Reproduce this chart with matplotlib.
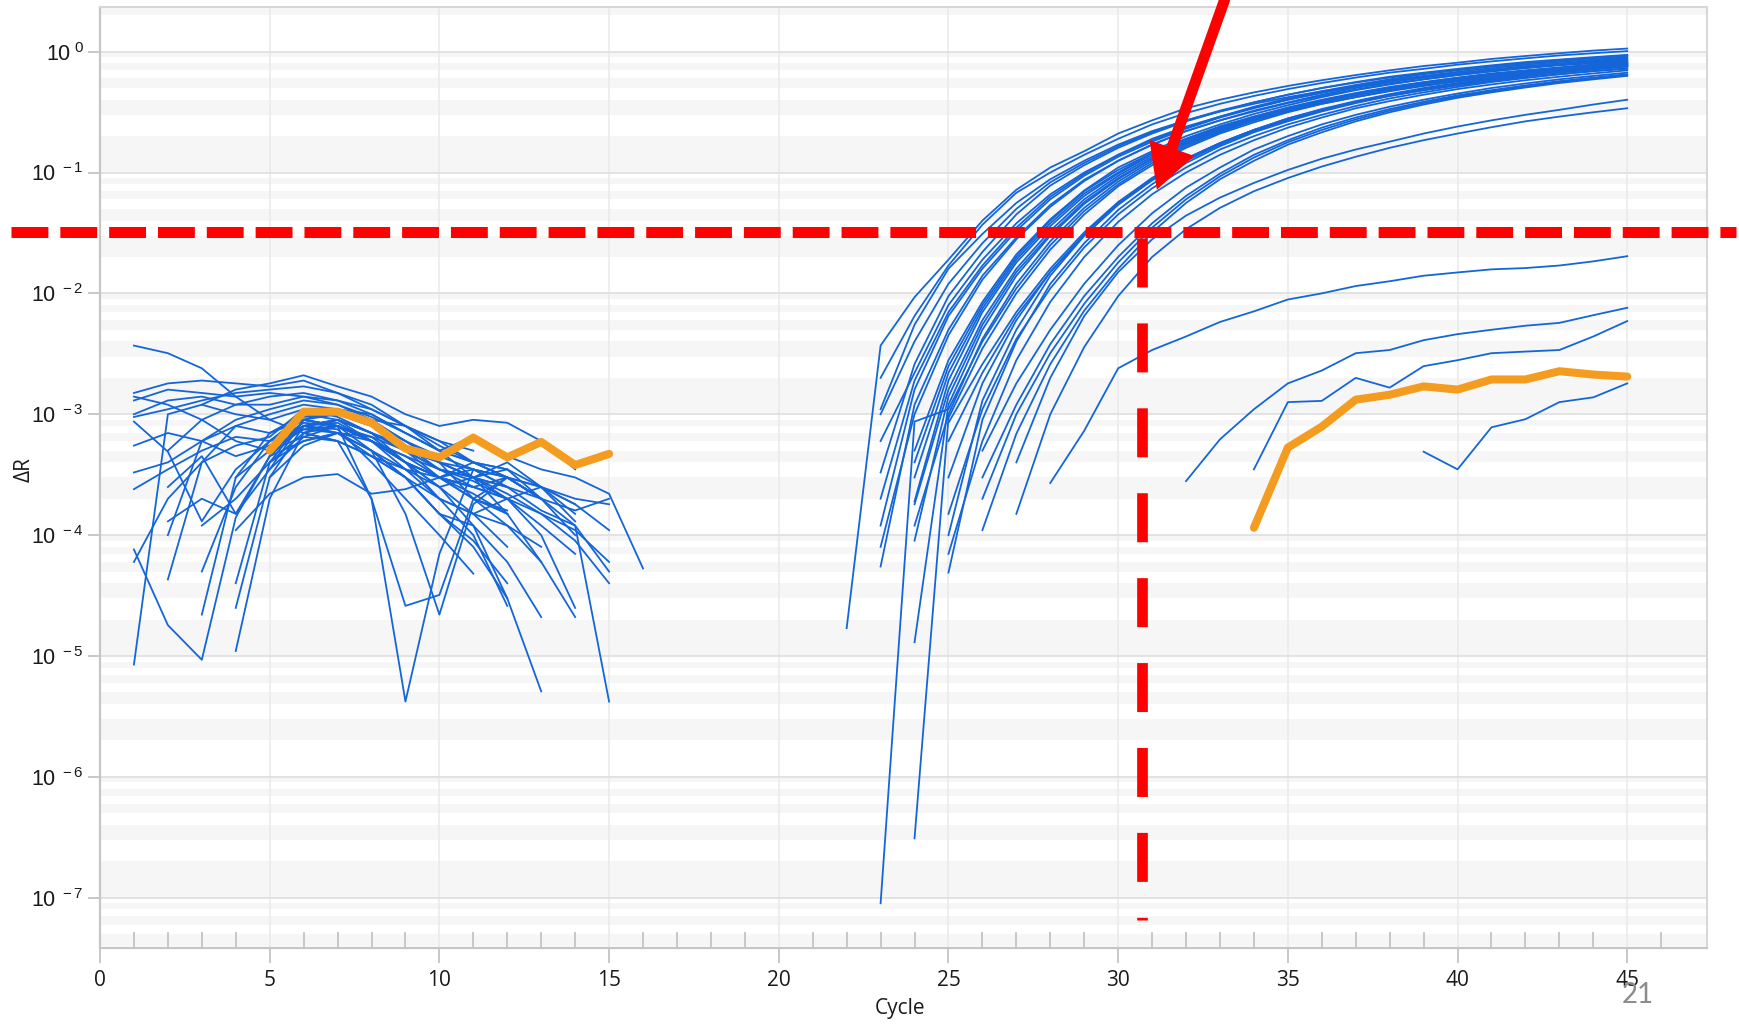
import numpy as np
import matplotlib.pyplot as plt
from matplotlib.ticker import FixedLocator, NullLocator

BLUE = '#1466d8'
ORANGE = '#f39c1f'
RED = '#ff0000'

# ── background noise traces, cycles 1-16: (first cycle, dR values) ──────────
e01 = (1, [3.7e-3, 3.2e-3, 2.4e-3, 1.4e-3, 9.0e-4, 7.0e-4, 6.0e-4, 4.5e-4, 3.5e-4, 3.0e-4, 2.5e-4])
e02 = (1, [1.5e-3, 1.8e-3, 1.9e-3, 1.8e-3, 1.7e-3, 1.9e-3, 1.5e-3, 1.1e-3, 8.0e-4, 6.0e-4, 4.0e-4, 3.0e-4, 2.0e-4])
e03 = (1, [1.3e-3, 1.6e-3, 1.5e-3, 1.4e-3, 1.5e-3, 1.4e-3, 1.3e-3, 1.0e-3, 7.0e-4, 5.0e-4, 4.0e-4, 3.5e-4])
e04 = (1, [1.0e-3, 1.3e-3, 1.4e-3, 1.2e-3, 1.2e-3, 1.4e-3, 1.2e-3, 9.0e-4, 6.0e-4, 4.0e-4, 2.0e-4, 1.2e-4, 8.0e-5])
e05 = (1, [8.7e-4, 4.9e-4, 1.3e-4, 3.5e-4, 6.0e-4, 8.0e-4, 7.0e-4, 4.5e-4, 3.0e-4, 1.5e-4, 9.0e-5, 4.0e-5])
e06 = (1, [3.3e-4, 4.0e-4, 6.0e-4, 8.0e-4, 7.0e-4, 9.0e-4, 8.0e-4, 6.0e-4, 4.5e-4, 3.0e-4, 2.5e-4, 3.0e-4, 2.0e-4, 1.0e-4])
e07 = (1, [2.4e-4, 3.5e-4, 5.0e-4, 6.5e-4, 6.0e-4, 7.5e-4, 7.0e-4, 5.0e-4, 3.5e-4, 2.5e-4, 3.0e-4, 2.5e-4, 1.6e-4, 1.2e-4, 5.0e-5])
e08 = (1, [7.6e-5, 1.8e-5, 9.3e-6, 1.4e-4, 4.5e-4, 8.0e-4, 7.0e-4, 5.0e-4, 3.0e-4, 1.5e-4, 8.0e-5, 3.0e-5])
e09 = (1, [8.5e-6, 1.0e-3, 1.2e-3, 1.0e-3, 9.0e-4, 1.1e-3, 9.5e-4, 7.0e-4, 5.0e-4, 3.5e-4, 2.8e-4, 2.0e-4])
e10 = (1, [1.4e-3, 1.2e-3, 9.0e-4, 6.0e-4, 5.0e-4, 6.5e-4, 6.0e-4, 4.5e-4, 3.0e-4, 2.0e-4, 1.5e-4, 2.0e-4, 1.5e-4, 9.0e-5, 4.0e-5])
e11 = (2, [4.3e-5, 4.0e-4, 8.0e-4, 1.0e-3, 1.2e-3, 1.1e-3, 8.5e-4, 6.0e-4, 4.5e-4, 3.5e-4, 2.5e-4])
e12 = (2, [1.0e-4, 6.0e-4, 9.0e-4, 1.1e-3, 1.3e-3, 1.2e-3, 9.5e-4, 7.0e-4, 5.0e-4, 3.0e-4, 1.5e-4, 6.0e-5])
e13 = (3, [2.2e-5, 3.0e-4, 7.0e-4, 9.0e-4, 8.0e-4, 6.0e-4, 4.0e-4, 2.5e-4, 1.5e-4, 8.0e-5])
e14 = (3, [5.0e-5, 2.5e-4, 6.0e-4, 9.5e-4, 1.0e-3, 8.0e-4, 5.5e-4, 3.5e-4, 2.5e-4, 2.0e-4, 2.5e-4, 1.8e-4])
e15 = (4, [1.1e-5, 2.0e-4, 7.0e-4, 8.0e-4, 6.5e-4, 4.0e-4, 3.0e-4, 2.0e-4, 1.6e-4])
e16 = (4, [2.5e-5, 3.0e-4, 8.0e-4, 9.0e-4, 7.0e-4, 5.0e-4, 3.0e-4, 2.5e-4, 2.0e-4, 1.2e-4, 7.0e-5])
e17 = (4, [4.0e-5, 4.0e-4, 9.0e-4, 1.0e-3, 8.5e-4, 6.0e-4, 4.0e-4, 3.0e-4, 3.5e-4, 2.0e-4])
e18 = (2, [1.3e-4, 2.0e-4, 1.5e-4, 3.5e-4, 9.0e-4, 1.1e-3, 1.0e-3, 7.0e-4, 5.0e-4, 4.0e-4, 3.0e-4, 2.0e-4])
e19 = (1, [6.0e-5, 2.0e-4, 4.0e-4, 5.5e-4, 6.5e-4, 1.1e-3, 1.0e-3, 8.0e-4, 5.5e-4, 4.0e-4, 3.0e-4, 2.0e-4, 1.0e-4, 2.5e-5])
e20 = (6, [9.0e-4, 8.0e-4, 2.0e-4, 4.2e-6, 7.0e-5, 3.5e-4, 3.0e-4, 2.0e-4])
e21 = (5, [6.0e-4, 1.0e-3, 9.0e-4, 7.0e-4, 4.0e-4, 2.5e-4, 1.2e-4, 3.0e-5, 5.1e-6])
e22 = (5, [5.5e-4, 8.0e-4, 8.5e-4, 6.0e-4, 4.0e-4, 3.0e-4, 4.0e-4, 3.0e-4, 2.0e-4, 1.2e-4, 4.2e-6])
e23 = (5, [7.0e-4, 1.0e-3, 1.1e-3, 9.0e-4, 8.0e-4, 5.0e-4, 6.5e-4, 4.5e-4, 3.5e-4, 3.0e-4, 2.2e-4, 5.3e-5])
e24 = (5, [4.0e-4, 7.0e-4, 9.0e-4, 7.0e-4, 5.0e-4, 3.5e-4, 3.0e-4, 4.0e-4, 2.5e-4, 1.8e-4, 1.1e-4])
e25 = (6, [8.0e-4, 9.0e-4, 6.0e-4, 3.5e-4, 2.0e-4, 1.5e-4, 1.2e-4, 6.0e-5, 2.1e-5])
e26 = (5, [4.5e-4, 6.0e-4, 7.0e-4, 5.0e-4, 3.0e-4, 1.5e-4, 1.2e-4, 6.0e-5, 2.1e-5])
e27 = (4, [3.0e-4, 5.0e-4, 7.5e-4, 8.0e-4, 6.0e-4, 4.0e-4, 2.0e-4, 1.0e-4, 2.6e-5])
e28 = (5, [6.0e-4, 9.0e-4, 8.0e-4, 5.0e-4, 1.5e-4, 2.2e-5, 1.8e-4, 3.0e-4, 2.5e-4, 1.5e-4])
e29 = (6, [7.0e-4, 6.0e-4, 2.0e-4, 2.6e-5, 3.2e-5, 2.0e-4, 3.0e-4, 2.0e-4])
e30 = (5, [5.0e-4, 8.0e-4, 7.5e-4, 4.0e-4, 2.0e-4, 1.0e-4, 4.8e-5])
e31 = (5, [3.5e-4, 6.5e-4, 8.0e-4, 6.0e-4, 4.5e-4, 3.5e-4, 3.0e-4, 2.5e-4, 2.0e-4, 1.6e-4, 2.0e-4])
e32 = (3, [1.2e-3, 1.6e-3, 1.8e-3, 2.1e-3, 1.7e-3, 1.4e-3, 1.0e-3, 8.0e-4, 9.0e-4, 8.5e-4, 6.0e-4, 3.5e-4])
e33 = (1, [9.5e-4, 1.1e-3, 1.3e-3, 1.5e-3, 1.6e-3, 1.7e-3, 1.5e-3, 1.2e-3, 8.0e-4, 6.0e-4, 5.0e-4])
e34 = (2, [5.0e-4, 9.0e-4, 1.2e-3, 1.4e-3, 1.5e-3, 1.3e-3, 1.1e-3, 8.0e-4, 5.5e-4, 4.0e-4, 3.5e-4, 2.5e-4, 1.3e-4])
e35 = (3, [1.2e-4, 2.0e-4, 4.0e-4, 6.0e-4, 7.0e-4, 6.0e-4, 4.0e-4, 3.0e-4, 3.5e-4, 2.5e-4])
e36 = (4, [1.1e-4, 2.2e-4, 3.0e-4, 3.2e-4, 2.2e-4, 2.4e-4, 3.0e-4, 2.2e-4, 1.5e-4])
e37 = (1, [5.5e-4, 7.0e-4, 6.0e-4, 4.5e-4, 5.5e-4, 8.5e-4, 8.0e-4, 6.0e-4, 4.0e-4, 3.0e-4, 2.0e-4, 1.5e-4])
e38 = (2, [2.5e-4, 4.5e-4, 1.5e-4, 4.5e-4, 8.0e-4, 9.0e-4, 7.0e-4, 5.5e-4, 4.0e-4, 3.0e-4, 2.2e-4, 1.5e-4, 1.1e-4, 6.0e-5])
e39 = (5, [3.0e-4, 5.5e-4, 7.0e-4, 6.5e-4, 5.0e-4, 4.0e-4, 3.5e-4, 3.0e-4, 2.5e-4, 2.0e-4, 1.8e-4])

# ── amplification curves ─────────────────────────────────────────────────────
a01 = (22, [1.7e-5, 3.7e-3, 9.3e-3, .019, .040, .072, .11, .15, .21, .27, .34, .40, .46, .52, .58, .64, .70, .76, .81, .87, .92, .97, 1.02, 1.06])
a02 = (23, [2.0e-3, 6.5e-3, .017, .037, .068, .10, .14, .19, .25, .31, .37, .43, .49, .55, .61, .67, .72, .78, .83, .88, .93, .97, 1.01])
a03 = (23, [1.0e-3, 4.0e-3, .012, .026, .050, .083, .12, .165, .215, .27, .325, .38, .44, .50, .555, .61, .66, .71, .76, .80, .84, .88, .92])
a04 = (23, [3.3e-4, 2.6e-3, .0095, .022, .045, .078, .115, .16, .21, .265, .32, .38, .44, .50, .56, .62, .67, .72, .77, .82, .86, .90, .94])
a05 = (23, [1.2e-4, 1.6e-3, 6.5e-3, .016, .033, .060, .094, .135, .18, .23, .285, .34, .40, .46, .52, .58, .63, .68, .73, .78, .82, .86, .90])
a06 = (23, [5.5e-5, 1.2e-3, 5.0e-3, .014, .029, .054, .087, .125, .17, .22, .27, .325, .38, .44, .50, .555, .61, .66, .71, .76, .80, .84, .88])
a07 = (23, [6.0e-4, 2.2e-3, 8.0e-3, .019, .038, .066, .10, .14, .19, .24, .29, .345, .40, .455, .51, .565, .615, .66, .705, .75, .79, .83, .86])
a08 = (23, [1.1e-3, 5.5e-3, .016, .031, .056, .088, .125, .17, .22, .27, .32, .37, .42, .47, .52, .57, .62, .66, .70, .74, .78, .81, .84])
a09 = (23, [2.0e-4, 1.9e-3, 7.0e-3, .017, .035, .063, .097, .14, .185, .235, .29, .35, .41, .47, .53, .59, .65, .70, .75, .80, .85, .89, .93])
a10 = (23, [8.0e-5, 1.0e-3, 4.5e-3, .013, .028, .052, .085, .125, .17, .22, .27, .32, .375, .43, .485, .54, .59, .64, .685, .73, .77, .80, .83])
a11 = (23, [9.0e-8, 8.7e-4, 1.1e-3, 4.0e-3, .011, .025, .048, .08, .12, .165, .215, .27, .325, .38, .435, .49, .54, .59, .64, .68, .72, .76, .79])
a12 = (24, [3.1e-7, 9.3e-4, 3.5e-3, .010, .023, .045, .077, .115, .16, .21, .26, .315, .37, .42, .475, .525, .575, .62, .665, .71, .75, .78])
b01 = (24, [3.0e-4, 2.2e-3, 7.5e-3, .019, .038, .067, .10, .145, .19, .24, .29, .345, .40, .455, .51, .56, .61, .66, .70, .74, .78, .82])
b02 = (24, [1.8e-4, 1.6e-3, 6.0e-3, .016, .033, .060, .094, .135, .18, .23, .28, .335, .39, .445, .50, .55, .60, .65, .69, .73, .77, .80])
b03 = (24, [1.3e-5, 1.2e-3, 5.0e-3, .014, .030, .055, .088, .13, .175, .225, .275, .33, .385, .44, .495, .55, .60, .645, .69, .73, .77, .81])
b04 = (24, [1.9e-4, 1.9e-3, 7.0e-3, .018, .036, .064, .098, .14, .185, .235, .285, .34, .395, .45, .505, .555, .605, .65, .695, .735, .775, .81])
b05 = (24, [5.0e-4, 2.8e-3, 8.5e-3, .021, .041, .071, .11, .15, .20, .25, .305, .36, .42, .48, .535, .59, .64, .69, .735, .78, .82, .86])
b06 = (24, [9.0e-5, 1.4e-3, 5.5e-3, .015, .031, .057, .09, .13, .175, .22, .27, .32, .37, .42, .47, .52, .565, .61, .65, .69, .73, .76])
b07 = (24, [4.0e-4, 2.5e-3, 8.0e-3, .020, .040, .07, .105, .145, .19, .24, .29, .34, .39, .44, .49, .535, .58, .62, .66, .70, .735, .77])
b08 = (24, [1.2e-4, 1.0e-3, 4.2e-3, .012, .027, .051, .084, .125, .17, .22, .27, .325, .38, .435, .49, .54, .59, .64, .685, .73, .77, .81])
c01 = (25, [1.0e-4, 1.3e-3, 5.0e-3, .014, .030, .055, .088, .13, .175, .225, .275, .33, .385, .44, .49, .54, .59, .635, .68, .72, .76])
c02 = (25, [4.9e-5, 9.0e-4, 4.0e-3, .012, .026, .049, .08, .12, .165, .215, .265, .32, .375, .43, .48, .53, .58, .625, .67, .71, .75])
c03 = (25, [8.5e-4, 2.6e-3, 7.0e-3, .016, .032, .057, .09, .13, .175, .225, .28, .335, .39, .445, .50, .55, .60, .645, .69, .73, .77])
c04 = (25, [3.0e-4, 1.8e-3, 6.0e-3, .015, .031, .056, .09, .13, .175, .225, .28, .33, .38, .43, .48, .525, .57, .61, .65, .69, .72])
c05 = (25, [1.5e-4, 1.1e-3, 4.2e-3, .011, .024, .045, .074, .11, .155, .20, .25, .30, .355, .41, .46, .51, .56, .605, .65, .69, .73])
c06 = (25, [6.0e-4, 2.2e-3, 6.5e-3, .015, .030, .054, .086, .125, .17, .22, .27, .325, .38, .435, .49, .54, .59, .64, .685, .73, .77])
c07 = (25, [7.0e-5, 6.0e-4, 2.8e-3, 8.5e-3, .020, .039, .066, .10, .14, .185, .235, .285, .34, .39, .44, .49, .535, .58, .62, .66, .70])
d01 = (26, [1.1e-4, 6.9e-4, 2.6e-3, 7.2e-3, .016, .032, .056, .088, .125, .17, .215, .265, .315, .365, .415, .46, .505, .55, .59, .63])
d02 = (26, [3.0e-4, 1.2e-3, 3.8e-3, 9.5e-3, .020, .038, .064, .098, .14, .185, .235, .285, .335, .385, .435, .48, .525, .57, .61, .65])
d03 = (26, [5.0e-4, 1.8e-3, 5.0e-3, .012, .025, .046, .075, .11, .155, .20, .25, .30, .35, .40, .45, .50, .545, .59, .63, .67])
d04 = (26, [2.0e-4, 1.0e-3, 3.2e-3, 8.2e-3, .018, .035, .06, .093, .133, .178, .225, .275, .325, .375, .425, .47, .515, .56, .60, .64])
f01 = (27, [4.0e-4, 2.0e-3, 6.5e-3, .015, .028, .044, .062, .082, .105, .13, .155, .18, .21, .24, .27, .30, .33, .365, .40])
f02 = (27, [1.5e-4, 1.0e-3, 3.6e-3, 9.5e-3, .020, .034, .051, .07, .09, .112, .135, .16, .185, .21, .237, .265, .29, .315, .34])

# late, weak curves
g01 = (28, [2.7e-4, 7.3e-4, 2.4e-3, 3.4e-3, 4.4e-3, 5.8e-3, 7.1e-3, 8.9e-3, 1.0e-2, 1.15e-2, 1.26e-2, 1.4e-2, 1.49e-2, 1.58e-2, 1.62e-2, 1.7e-2, 1.84e-2, 2.03e-2])
g02 = (32, [2.8e-4, 6.2e-4, 1.1e-3, 1.8e-3, 2.3e-3, 3.2e-3, 3.4e-3, 4.1e-3, 4.6e-3, 5.0e-3, 5.4e-3, 5.7e-3, 6.6e-3, 7.6e-3])
g03 = (34, [3.5e-4, 1.26e-3, 1.29e-3, 2.0e-3, 1.66e-3, 2.5e-3, 2.8e-3, 3.2e-3, 3.3e-3, 3.4e-3, 4.4e-3, 5.9e-3])
g04 = (39, [4.9e-4, 3.5e-4, 7.8e-4, 9.1e-4, 1.26e-3, 1.38e-3, 1.8e-3])

# highlighted sample (orange), two visible stretches
hl_early = (5, [5.0e-4, 1.05e-3, 1.05e-3, 8.5e-4, 5.2e-4, 4.4e-4, 6.4e-4, 4.4e-4, 5.9e-4, 3.8e-4, 4.7e-4])
hl_late = (34, [1.15e-4, 5.3e-4, 7.9e-4, 1.32e-3, 1.45e-3, 1.70e-3, 1.60e-3, 1.94e-3, 1.94e-3, 2.27e-3, 2.13e-3, 2.05e-3])

threshold = 0.0324
ct_marker = 30.69

blue_traces = [e01, e02, e03, e04, e05, e06, e07, e08, e09, e10, e11, e12, e13,
               e14, e15, e16, e17, e18, e19, e20, e21, e22, e23, e24, e25, e26,
               e27, e28, e29, e30, e31, e32, e33, e34, e35, e36, e37, e38, e39,
               a01, a02, a03, a04, a05, a06, a07, a08, a09, a10, a11, a12,
               b01, b02, b03, b04, b05, b06, b07, b08,
               c01, c02, c03, c04, c05, c06, c07,
               d01, d02, d03, d04, f01, f02, g01, g02, g03, g04]

W, H = 1739, 1025
fig = plt.figure(figsize=(W / 100, H / 100), dpi=100)
ax = fig.add_axes([100 / W, 77 / H, 1607 / W, 941 / H])
ax.set_yscale('log')
ax.set_xlim(0, 47.35)
ax.set_ylim(3.84e-8, 2.34)

# alternating light bands between minor log positions
k = 0
for n in range(-8, 1):
    for m in range(1, 10):
        if k % 2 == 1:
            ax.axhspan(m * 10.0**n, (m + 1) * 10.0**n, color='#f6f6f6', lw=0, zorder=0.2)
        k += 1

for start, vals in blue_traces:
    ax.plot(np.arange(start, start + len(vals)), vals, color=BLUE, lw=1.3, zorder=3)

for start, vals in (hl_early, hl_late):
    ax.plot(np.arange(start, start + len(vals)), vals, color=ORANGE, lw=5.8,
            solid_capstyle='round', solid_joinstyle='round', zorder=4)

# threshold + Ct marker
ax.plot([-2.62, 48.2], [threshold, threshold], color=RED, lw=7.9,
        dashes=(3.36, 1.09), dash_capstyle='butt', clip_on=False, zorder=6)
ax.plot([ct_marker, ct_marker], [0.0288, 6.6e-8], color=RED, lw=7.7,
        dashes=(4.58, 3.36), dash_capstyle='butt', clip_on=False, zorder=6)
ax.annotate('', xy=(31.14, 0.0719), xytext=(33.15, 2.75),
            arrowprops=dict(facecolor=RED, edgecolor='none', width=7.9,
                            headwidth=34, headlength=32, shrink=0),
            annotation_clip=False, zorder=7)

# axes styling
ax.set_axisbelow(True)
ax.grid(True, axis='y', which='major', color='#e0e0e0', lw=1.3)
ax.grid(True, axis='x', which='major', color='#e9e9e9', lw=1.1)
for side in ('left', 'bottom'):
    ax.spines[side].set_color('#c6c6c6')
    ax.spines[side].set_linewidth(1.6)
for side in ('top', 'right'):
    ax.spines[side].set_color('#d6d6d6')
    ax.spines[side].set_linewidth(1.4)

ax.set_xticks(range(0, 46, 5))
ax.xaxis.set_minor_locator(FixedLocator([c for c in range(1, 47) if c % 5]))
ax.tick_params(axis='x', which='major', direction='out', length=10.8, width=1.3,
               color='#c4c4c4', pad=5, labelsize=15, labelcolor='#1a1a1a')
ax.tick_params(axis='x', which='minor', direction='in', length=11.5, width=1.3,
               color='#c4c4c4')
for lab in ax.get_xticklabels():
    lab.set_fontfamily('Open Sans')

yt = [10.0**p for p in range(-7, 1)]
ax.set_yticks(yt, [r'$\mathregular{10^{\;%d}}$' % p for p in range(-7, 1)])
ax.yaxis.set_minor_locator(NullLocator())
ax.tick_params(axis='y', which='major', direction='out', length=8.6, width=1.3,
               color='#c4c4c4', pad=3, labelsize=15.5, labelcolor='#1a1a1a')
for lab in ax.get_yticklabels():
    lab.set_fontfamily('Liberation Sans')

ax.set_xlabel('Cycle', fontsize=15, family='Open Sans', color='#1a1a1a')
ax.xaxis.set_label_coords(0.498, -0.064)
ax.xaxis.label.set_va('center')
ax.set_ylabel('ΔR', fontsize=15, family='Open Sans', color='#1a1a1a')
ax.yaxis.set_label_coords(-0.047, 0.508)
ax.yaxis.label.set_va('center')

fig.text(1638 / W, 1 - 995 / H, '21', ha='center', va='center', fontsize=20,
         color='#8c8c8c', family='Lato')

fig.savefig('out.png', dpi=100)
